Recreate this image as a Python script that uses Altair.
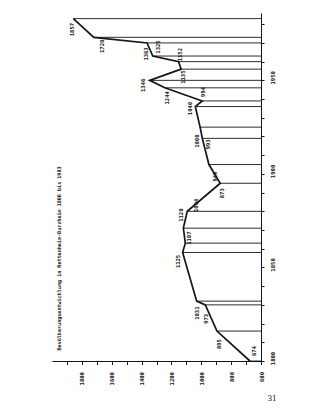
import altair as alt
import pandas as pd

# ---- data ----
years = [1800, 1816, 1830, 1832, 1858, 1863, 1871, 1880, 1895, 1905, 1919,
         1925, 1936, 1939, 1946, 1950, 1956, 1960, 1963, 1970, 1973, 1983]
population = [674, 895, 973, 1031, 1125, 1107, 1120, 1094, 873, 949, 993,
              1008, 1040, 994, 1244, 1346, 1135, 1152, 1325, 1363, 1720, 1857]

title_text = "Bevölkerungsentwicklung in Rettenheim-Burzheim 1800 bis 1983"
page_number = "31"

pop_ticks = list(range(600, 2000, 100))
year_ticks = list(range(1800, 1990, 10))

# ---- layout / style ----
W, H = 209, 348
POP_DOMAIN = [600, 2000]
YEAR_DOMAIN = [1800, 1986]
INK = "#151515"
MONO = "DejaVu Sans Mono"

# label nudges in screen pixels (dx right, dy down), one per point
label_nudge = [(4, -10), (2, 13), (1, 14), (0, 12), (-4.5, 9), (4, -5),
               (-2, -13), (9, -6), (1.5, 10), (6, 12), (6, 6), (-3.5, 14),
               (-5, 2), (1, -9), (2, 10), (-7, 5), (2, 8), (1, -7),
               (5, -9), (-1, 11), (8, 9), (-1, 11)]

pop_per_px = (POP_DOMAIN[1] - POP_DOMAIN[0]) / W
year_per_px = (YEAR_DOMAIN[1] - YEAR_DOMAIN[0]) / H

df = pd.DataFrame({"year": years, "pop": population})
df["base"] = POP_DOMAIN[0]
df["label"] = df["pop"].astype(str)
df["lx"] = [p - dx * pop_per_px for p, (dx, dy) in zip(population, label_nudge)]
df["ly"] = [y - dy * year_per_px for y, (dx, dy) in zip(years, label_nudge)]

xs = alt.Scale(domain=POP_DOMAIN, reverse=True, nice=False, zero=False)
ys = alt.Scale(domain=YEAR_DOMAIN, nice=False, zero=False)

x_axis = alt.Axis(
    orient="bottom", values=pop_ticks, tickCount=100, format="d",
    labelExpr="(datum.value % 200 == 0 && datum.value <= 1800) ? datum.label : ''",
    grid=False, title=None, domainColor=INK, tickColor=INK, labelColor=INK,
    domainWidth=1, tickWidth=1, tickSize=3.5, labelPadding=7,
    labelAngle=270, labelAlign="right", labelBaseline="middle",
    labelFont=MONO, labelFontSize=5.6, labelFontWeight="bold",
    labelOverlap=False, labelBound=False, labelFlush=False,
)
y_axis = alt.Axis(
    orient="right", values=year_ticks, tickCount=100, format="d",
    labelExpr="datum.value % 50 == 0 ? datum.label : ''",
    grid=False, title=None, domainColor=INK, tickColor=INK, labelColor=INK,
    domainWidth=1, tickWidth=1, tickSize=3, labelPadding=6,
    labelAngle=270, labelAlign="center", labelBaseline="top", labelOffset=-3,
    labelFont=MONO, labelFontSize=5.6, labelFontWeight="bold",
    labelOverlap=False, labelBound=False, labelFlush=False,
)

rules = alt.Chart(df).mark_rule(color=INK, strokeWidth=0.9).encode(
    x=alt.X("pop:Q", scale=xs, axis=x_axis),
    x2="base:Q",
    y=alt.Y("year:Q", scale=ys, axis=y_axis),
)

line = alt.Chart(df).mark_line(color=INK, strokeWidth=1.7).encode(
    x=alt.X("pop:Q", scale=xs),
    y=alt.Y("year:Q", scale=ys),
    order="year:Q",
)

labels = alt.Chart(df).mark_text(
    angle=270, align="center", baseline="middle", font=MONO,
    fontSize=5.5, fontWeight="bold", color=INK,
).encode(
    x=alt.X("lx:Q", scale=xs),
    y=alt.Y("ly:Q", scale=ys),
    text="label:N",
)

title = alt.Chart(pd.DataFrame({"t": [title_text]})).mark_text(
    angle=270, align="center", baseline="middle", font=MONO,
    fontSize=5.1, fontWeight="bold", color=INK,
).encode(
    x=alt.X(datum=1953, scale=xs),
    y=alt.Y(datum=1854.8, scale=ys),
    text="t:N",
)

page = alt.Chart(pd.DataFrame({"t": [page_number]})).mark_text(
    align="center", baseline="middle", font="Liberation Serif",
    fontSize=9, color=INK,
).encode(
    x=alt.X(datum=526, scale=xs),
    y=alt.Y(datum=1780, scale=ys),
    text="t:N",
)

chart = alt.layer(rules, line, labels, title, page).properties(
    width=W, height=H,
    padding={"left": 52, "top": 13, "right": 72, "bottom": 55},
    autosize=alt.AutoSizeParams(type="none"),
    background="white",
).configure_view(stroke=None)

chart.save("out.html", embed_options={"renderer": "svg", "actions": False})
